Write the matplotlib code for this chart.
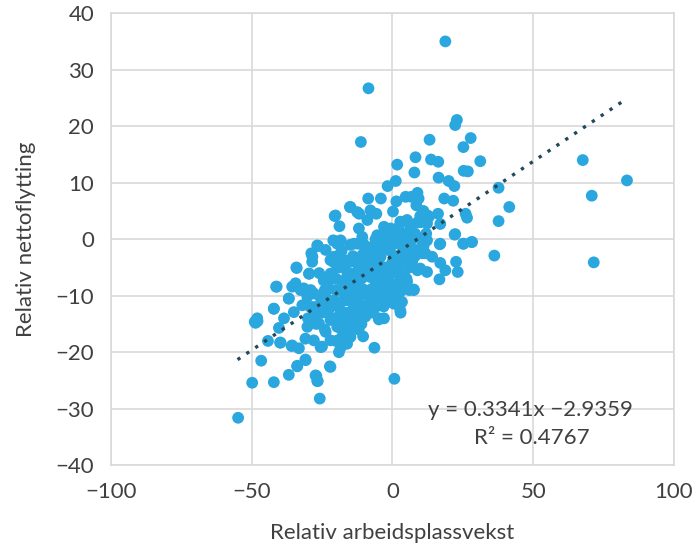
import numpy as np
import matplotlib.pyplot as plt

plt.rcParams['font.family'] = ['Lato', 'DejaVu Sans']

# points (x = relativ arbeidsplassvekst, y = relativ nettoflytting)
outlier_x = [18.8, -8.5, 22.9, 22.3, 67.6, 83.3, 70.8, 71.5, 37.7, 41.5, 37.7, 36.2, 31.2,
             -54.8, 0.7, -25.8]
outlier_y = [35.0, 26.7, 21.1, 20.2, 14.0, 10.4, 7.7, -4.1, 9.1, 5.7, 3.2, -2.9, 13.8,
             -31.6, -24.7, -28.2]

upper_x = [-11.2, 13.2, 27.8, 25.2, 8.2, 1.7, 13.7, 16.3, 7.8, 25.3, 26.8, 16.4, 20.0,
           22.0, 1.2, -1.7, -8.6, -4.1, 1.4, 4.7, 8.9, 9.3, 6.7, 18.4, 21.6, -14.9,
           -20.5, -11.8, -7.8, -5.7, 0.2, 8.5, 9.9, 12.5, 16.2, 26.0, 26.5, -18.8,
           -11.9, -8.9, -3.0, 2.8, 5.2, -0.7, 6.4, 12.3, 17.0, 22.1, 25.1, 28.1, 17.0,
           -26.5, -21.0, -18.4, -13.7, -10.7, -5.4, -1.8, 1.7, 4.1, 8.8, 12.3, -4.3,
           2.8, 6.4, 11.1, -20.2, -15.1, -12.5]
upper_y = [17.2, 17.6, 17.9, 16.3, 14.5, 13.2, 14.1, 13.7, 11.8, 12.1, 12.0, 10.9, 10.3,
           9.4, 10.3, 9.4, 7.2, 7.2, 6.7, 7.5, 8.2, 7.2, 7.5, 7.2, 6.8, 5.7,
           4.1, 4.5, 5.1, 4.5, 4.9, 6.0, 4.1, 4.2, 4.5, 4.5, 3.8, 2.3,
           1.9, 3.4, 2.2, 3.1, 3.4, 1.9, 2.2, 2.8, 2.7, 0.8, -0.8, -0.5, -0.8,
           -1.2, -0.2, -0.2, -0.8, 0.4, 0.7, 1.0, 0.4, 1.0, 0.4, -0.2, -0.8,
           -0.8, -0.5, -1.1, 4.2, 5.7, 4.8]

lower_x = [-49.8, -42.1, -46.6, -36.8, -33.8, -30.9, -27.0, -26.5, -22.2, -19.0, -18.4,
           -6.4, -39.9, -44.2, -48.9, -47.9, -42.1, -40.3, -38.5, -36.8, -41.3, -34.1,
           -29.6, -28.4, -26.5, -35.6, -32.6, -35.0, -32.0, -35.8, -33.2, -30.9, -27.9,
           -25.5, -22.0, -30.2, -27.9, -29.1, -26.1, -23.7, -22.0, -30.2, -27.9, -25.5,
           -23.2, -19.6, -17.2, -14.9, -10.4, -12.6, -16.1, -18.4, -10.2, -7.8, -4.8,
           -3.1, 0.5, 2.9, 3.4, 1.7, 7.6, 2.9, -0.6, -4.2, -6.5, -20.8, -23.2, -24.4,
           -22.0, -19.6, -17.2, -14.9, -12.6, -10.2, -16.1, -13.7, -18.4, -20.8, -18.4,
           -14.9, -10.2, -6.5, -3.1, -7.8, -5.5, 1.7, 4.1, 6.5, 8.9, 10.6, 8.9, 4.1,
           -1.9, -6.5, -12.3, -19.6, -23.7, -22.0, -8.9, -4.2, 0.5, -1.9, -7.8, -13.7,
           -17.2, -11.9, -4.8, -1.9, 4.1, -12.1, -14.9, -18.4, -16.1]
lower_y = [-25.4, -25.3, -21.5, -24.0, -22.5, -21.3, -24.2, -25.1, -22.5, -20.0, -19.2,
           -19.2, -18.3, -18.0, -14.6, -14.5, -12.3, -15.7, -14.0, -10.5, -8.4, -5.0,
           -6.1, -3.1, -1.2, -8.4, -9.0, -12.9, -11.7, -18.9, -19.3, -17.6, -17.9,
           -19.1, -17.9, -15.5, -13.7, -12.0, -14.9, -16.4, -14.3, -10.2, -9.6, -11.4,
           -12.6, -15.5, -16.7, -17.3, -17.2, -14.8, -14.2, -13.0, -13.6, -12.6, -14.2,
           -11.9, -11.4, -13.0, -11.1, -9.9, -9.0, -9.0, -7.9, -9.0, -10.8, -10.8, -9.0, -7.3,
           -6.1, -4.9, -3.7, -6.1, -7.9, -9.6, -10.8, -12.0, -9.0, -3.1, -2.5,
           -3.7, -2.5, -4.3, -6.1, -6.7, -7.9, -4.9, -6.1, -4.9, -5.5, -2.5, -1.9, -2.5,
           -1.4, -1.1, -0.8, -0.8, -1.9, -3.7, -4.9, -3.1, -3.1, -7.9, -9.0, -9.6,
           -7.3, -4.9, -10.8, -10.2, -7.9, -13.7, -15.5, -17.6, -18.5]

edge_x = [-27.3, -26.7, -30.8, -33.8, -22.0, -48.6, -39.7, -35.6, -26.7, -20.7, -28.8,
          -28.5, -34.0, -29.6, -41.1, -34.4, -31.5, -36.8, -42.1, -48.0, 22.3, 25.3,
          28.3, 16.8, 17.0, 22.6, 23.2, 18.8, 16.7, 12.3, 9.9, 7.6, 2.8, 2.8, 1.1,
          11.7, 14.1, 8.9, 3.4, 5.2, -4.8, -9.6]
edge_y = [-24.1, -25.1, -21.4, -22.4, -22.6, -14.8, -18.3, -18.8, -1.1, -0.3, -2.5,
          -4.0, -5.1, -6.1, -8.4, -7.8, -8.7, -10.5, -12.3, -14.0, 0.9, -0.8,
          -0.5, -0.9, -4.2, -4.0, -5.8, -5.5, -7.1, -5.8, -5.2, -8.9, -9.3, -12.6, -11.4,
          -2.5, -3.1, -2.2, -6.9, -7.5, -14.0, -13.7]

# extra points filling the solid core of the cloud
core_x = [-24, -20, -16, -12, -8, -4, 0, 4, -22, -18, -14, -10, -6, -2, 2, 6,
          -20, -16, -12, -8, -4, 0, -18, -14, -10, -6, -2, -15, -11, -7, -3,
          -30, -28, -27, -26, -25, -24, -23, -22, -21, -20, -19, -18, -17, -16, -15,
          -14, -13, -12, -11, -10, -9, -8, -7, -6, -5, -4, -3, -2, -1, 0, 1, 2, 3, 4,
          5, 6, 7, 8, 9, 10, 11, 12, -21, -18, -15, -12, -9, -6, -3, 0, 3, -26, -24,
          -29, -19, -13, -10, -7, -4, -1, 2, 5, -16, -23, -17, -14, -11, -8, -5, -2,
          1, 4, 7, 10, 13, -20, -16, -12, -25,
          -22, -19, -13, -9, -5, -1, 3, 6, -17, -11, -7, -3, 1, -14, -8, -2, 8, 11]
core_y = [-10, -9, -8, -7, -6, -5, -4, -3, -12, -11, -10, -9, -8, -7, -6, -5,
          -14, -13, -12, -11, -10, -9, -15, -14, -13, -12, -11, -4, -3, -2, -1,
          -14, -12, -15, -10, -13, -16, -8, -11, -14, -7, -12, -16, -5, -10, -13,
          -3, -8, -11, -15, -1, -6, -9, -13, 0, -4, -8, -11, 1, -2, -6, -8, 2, -1, -4,
          0, -2, 1, -3, 3, 0, -2, 1, -4, -2, -1, -5, -3, -10, -14, -1, 3, -6, -9,
          -9, -9, -14, -9, -6, -2, -9, -4, -7, -6, -13, -13, -11, -7, -4, -7, -5,
          -3, -1, -4, 3, 4, -18, -17, -16, -19,
          -7, -5, -6, -12, -10, -11, -7, -9, -8, -4, -3, -5, 0, -7, -2, 0, 1, 5]

slope = 0.3341
intercept = -2.9359
line_x = [-55, 83]

x = np.array(outlier_x + upper_x + lower_x + edge_x + core_x)
y = np.array(outlier_y + upper_y + lower_y + edge_y + core_y)

fig = plt.figure(figsize=(6.97, 5.48), dpi=100)
ax = fig.add_axes([0.159, 0.151, 0.808, 0.825])

ax.scatter(x, y, s=72, color='#2AA7DF', edgecolors='none', zorder=3)

lx = np.array(line_x)
ax.plot(lx, slope * lx + intercept, linestyle=(0, (1, 2.2)), linewidth=2.4,
        color='#22495C', zorder=4)

fs = 16
ax.set_xlim(-100, 100)
ax.set_ylim(-40, 40)
ax.set_xticks(np.arange(-100, 101, 50))
ax.set_yticks(np.arange(-40, 41, 10))
ax.set_xticklabels(['\u2212100', '\u221250', '0', '50', '100'])
ax.set_yticklabels([f'\u2212{abs(v)}' if v < 0 else str(v) for v in range(-40, 41, 10)])
ax.grid(True, color='#D9D9D9', linewidth=1.2, zorder=0)
ax.set_axisbelow(True)
for sp in ax.spines.values():
    sp.set_color('#D9D9D9')
    sp.set_linewidth(1.2)
ax.tick_params(length=0, labelsize=fs, colors='#404040')
ax.tick_params(axis='x', pad=12)
ax.tick_params(axis='y', pad=12)

ax.set_xlabel('Relativ arbeidsplassvekst', fontsize=fs, color='#404040', labelpad=15)
ax.set_ylabel('Relativ nettoflytting', fontsize=fs, color='#404040', labelpad=14)

ax.text(49, -30.3, 'y = 0.3341x \u22122.9359', ha='center', va='center',
        fontsize=fs, color='#404040')
ax.text(49.5, -35.1, 'R\u00b2 = 0.4767', ha='center', va='center',
        fontsize=fs, color='#404040')

fig.savefig('out.png', dpi=100)
